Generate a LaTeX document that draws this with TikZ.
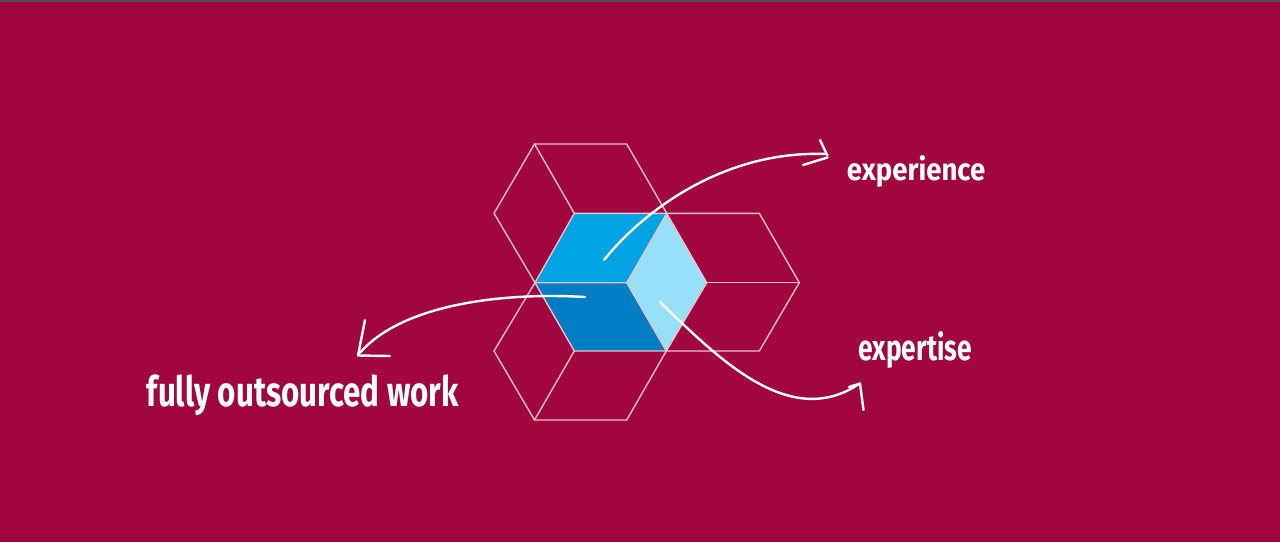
\documentclass[tikz,border=0pt]{standalone}
\usepackage{fontspec}
\setmainfont{Fira Sans}
\usepackage{graphicx}
\definecolor{bg}{HTML}{A1063E}
\definecolor{topface}{HTML}{00A3E4}
\definecolor{rightface}{HTML}{96E0FA}
\definecolor{botface}{HTML}{007DC5}
\definecolor{edge}{HTML}{E8C2CB}
\definecolor{topline}{HTML}{505050}
\tikzset{
  hexline/.style={draw=edge, line width=1.4pt, line join=round, line cap=round},
  handarrow/.style={draw=white, line width=2.4pt, line cap=round, line join=round},
  label/.style={text=white, inner sep=0pt, anchor=base west, font=\bfseries}
}
\begin{document}
\begin{tikzpicture}[x=1pt, y=-1pt]
\fill[bg] (0,0) rectangle (1280,542);
\useasboundingbox (0,0) rectangle (1280,542);
\fill[topline] (0,0) rectangle (1280,1.6);
% lattice coordinates
\coordinate (ulTL) at (534.5,144);
\coordinate (ulTR) at (626.7,144);
\coordinate (ulL) at (494,213.3);
\coordinate (ulY) at (574.3,213.3);
\coordinate (cTR) at (666.7,213.3);
\coordinate (cL) at (535,282.7);
\coordinate (cC) at (626.7,282.7);
\coordinate (cR) at (706.7,282.7);
\coordinate (cBL) at (574.3,351);
\coordinate (cBR) at (666.3,351);
\coordinate (rTR) at (759.3,213.3);
\coordinate (rR) at (799.3,282.7);
\coordinate (rBR) at (759.3,351);
\coordinate (llL) at (494,351);
\coordinate (llBL) at (534.5,420);
\coordinate (llBR) at (626.7,420);
% cube faces
\fill[topface] (ulY) -- (cTR) -- (cC) -- (cL) -- cycle;
\fill[rightface] (cTR) -- (cR) -- (cBR) -- (cC) -- cycle;
\fill[botface] (cL) -- (cC) -- (cBR) -- (cBL) -- cycle;
% upper-left hexagon
\draw[hexline] (cTR) -- (ulTR) -- (ulTL) -- (ulL) -- (cL);
\draw[hexline] (ulTL) -- (ulY);
% center cube
\draw[hexline] (ulY) -- (cTR) -- (cR) -- (cBR) -- (cBL) -- (cL) -- cycle;
\draw[hexline] (cL) -- (cC) -- (cTR);
\draw[hexline] (cC) -- (cBR);
% right hexagon
\draw[hexline] (cTR) -- (rTR) -- (rR) -- (rBR) -- (cBR);
\draw[hexline] (cR) -- (rR);
% lower-left hexagon
\draw[hexline] (cL) -- (llL) -- (llBL) -- (llBR) -- (cBR);
\draw[hexline] (cBL) -- (llBL);
% arrow: experience
\coordinate (a1s) at (604,260);
\coordinate (a1e) at (826,154);
\draw[handarrow] (a1s) .. controls (640,215) and (720,150) .. (a1e);
\draw[handarrow] (820,140) .. controls (823,146) and (825,151) .. (827.5,155.5);
\draw[handarrow] (803,165) -- (827.5,157.5);
% arrow: fully outsourced work
\coordinate (a2s) at (585,297);
\coordinate (a2e) at (359,354);
\draw[handarrow] (a2s) .. controls (500,292) and (400,305) .. (a2e);
\draw[handarrow] (365,320) -- (358,355.5) -- (390,356);
% arrow: expertise
\coordinate (a3s) at (660,302);
\coordinate (a3e) at (859,384);
\draw[handarrow] (a3s) .. controls (720,360) and (790,430) .. (a3e);
\draw[handarrow] (849,387) -- (860,383.5) -- (863.5,410);
% labels
\node[label] (experience) at (846.7,180) {\resizebox{138.3pt}{25pt}{experience}};
\node[label] (expertise) at (858.3,360) {\resizebox{113.4pt}{29pt}{expertise}};
\node[label] (outsourced) at (146.7,406.7) {\resizebox{311.6pt}{31.7pt}{fully outsourced work}};
\end{tikzpicture}
\end{document}
